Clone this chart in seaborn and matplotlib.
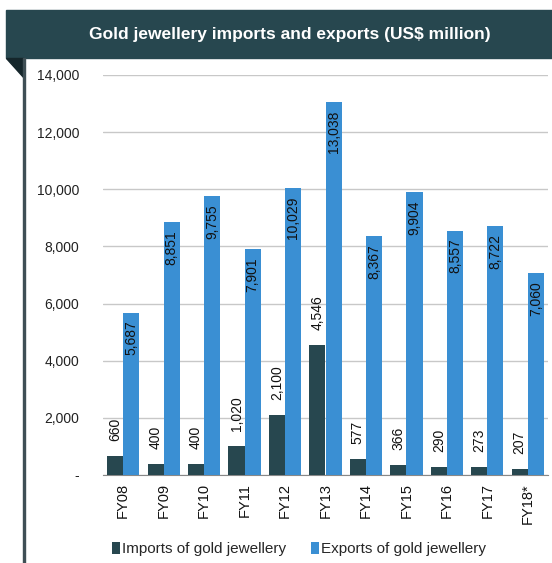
import matplotlib.pyplot as plt
import matplotlib.patches as mpatches
import matplotlib.ticker as mticker
import pandas as pd
import seaborn as sns

years = ["FY08", "FY09", "FY10", "FY11", "FY12", "FY13", "FY14", "FY15", "FY16", "FY17", "FY18*"]
imports = [660, 400, 400, 1020, 2100, 4546, 577, 366, 290, 273, 207]
exports = [5687, 8851, 9755, 7901, 10029, 13038, 8367, 9904, 8557, 8722, 7060]
series = ["Imports of gold jewellery", "Exports of gold jewellery"]
colors = ["#27474f", "#3a8fd3"]

df = pd.DataFrame({
    "year": years * 2,
    "value": imports + exports,
    "series": [series[0]] * len(years) + [series[1]] * len(years),
})

sns.set_style("white")
plt.rcParams['font.family'] = ['Liberation Sans', 'DejaVu Sans']

W, H = 552, 563
fig = plt.figure(figsize=(W / 100, H / 100), dpi=100)

# title banner + folded corner + left rule
fig.patches.append(mpatches.Rectangle((6 / W, 1 - 58 / H), 1 - 6 / W, 48 / H,
                                      transform=fig.transFigure, color="#27474f", zorder=0))
fig.patches.append(mpatches.Polygon([(6 / W, 1 - 58 / H), (24 / W, 1 - 58 / H), (24 / W, 1 - 78 / H)],
                                    closed=True, transform=fig.transFigure, color="#15262b", zorder=0))
fig.patches.append(mpatches.Rectangle((23 / W, 0), 2 / W, 1 - 58 / H,
                                      transform=fig.transFigure, color="#3f4f55", zorder=0))
fig.text(0.525, 1 - 34 / H, "Gold jewellery imports and exports (US$ million)", color="white",
         fontsize=12.5, fontweight="bold", ha="center", va="center")

ax = fig.add_axes([103 / W, 88 / H, 445 / W, 400 / H])
sns.barplot(data=df, x="year", y="value", hue="series", palette=colors, ax=ax,
            width=0.8, saturation=1, legend=True, zorder=3, linewidth=0, edgecolor="none")

ax.set_ylim(0, 14000)
ax.set_xlim(-0.5, len(years) - 0.5)
ax.yaxis.set_major_locator(mticker.MultipleLocator(2000))
ax.yaxis.set_major_formatter(mticker.FuncFormatter(lambda v, p: "-" if v == 0 else f"{int(v):,}"))
ax.grid(axis="y", color="#c8c8c8", linewidth=1, zorder=0)
for s in ["top", "right", "left"]:
    ax.spines[s].set_visible(False)
ax.spines["bottom"].set_color("#888888")
ax.set_xlabel("")
ax.set_ylabel("")
ax.tick_params(axis="y", length=0, labelsize=10, pad=17, labelcolor="#222222")
ax.tick_params(axis="x", which="major", length=0, labelsize=10.5, rotation=90, pad=6, labelcolor="#111111")
ax.set_xticks([i + 0.5 for i in range(-1, len(years))], minor=True)
ax.tick_params(axis="x", which="minor", length=5, color="#888888", direction="out")

# value labels
for bar, v in zip(ax.containers[0], imports):
    ax.text(bar.get_x() + bar.get_width() / 2, v + 520, f"{v:,}", rotation=90,
            ha="center", va="bottom", fontsize=10, color="#111111")
for bar, v in zip(ax.containers[1], exports):
    ax.text(bar.get_x() + bar.get_width() / 2, v - 280, f"{v:,}", rotation=90,
            ha="center", va="top", fontsize=10, color="#111111")

leg = ax.legend(loc="center", bbox_to_anchor=(0.44, -0.185), ncol=2, frameon=False,
                fontsize=11, handlelength=0.55, handleheight=0.9, handletextpad=0.1, columnspacing=1.6)

fig.savefig("out.png", dpi=100)
